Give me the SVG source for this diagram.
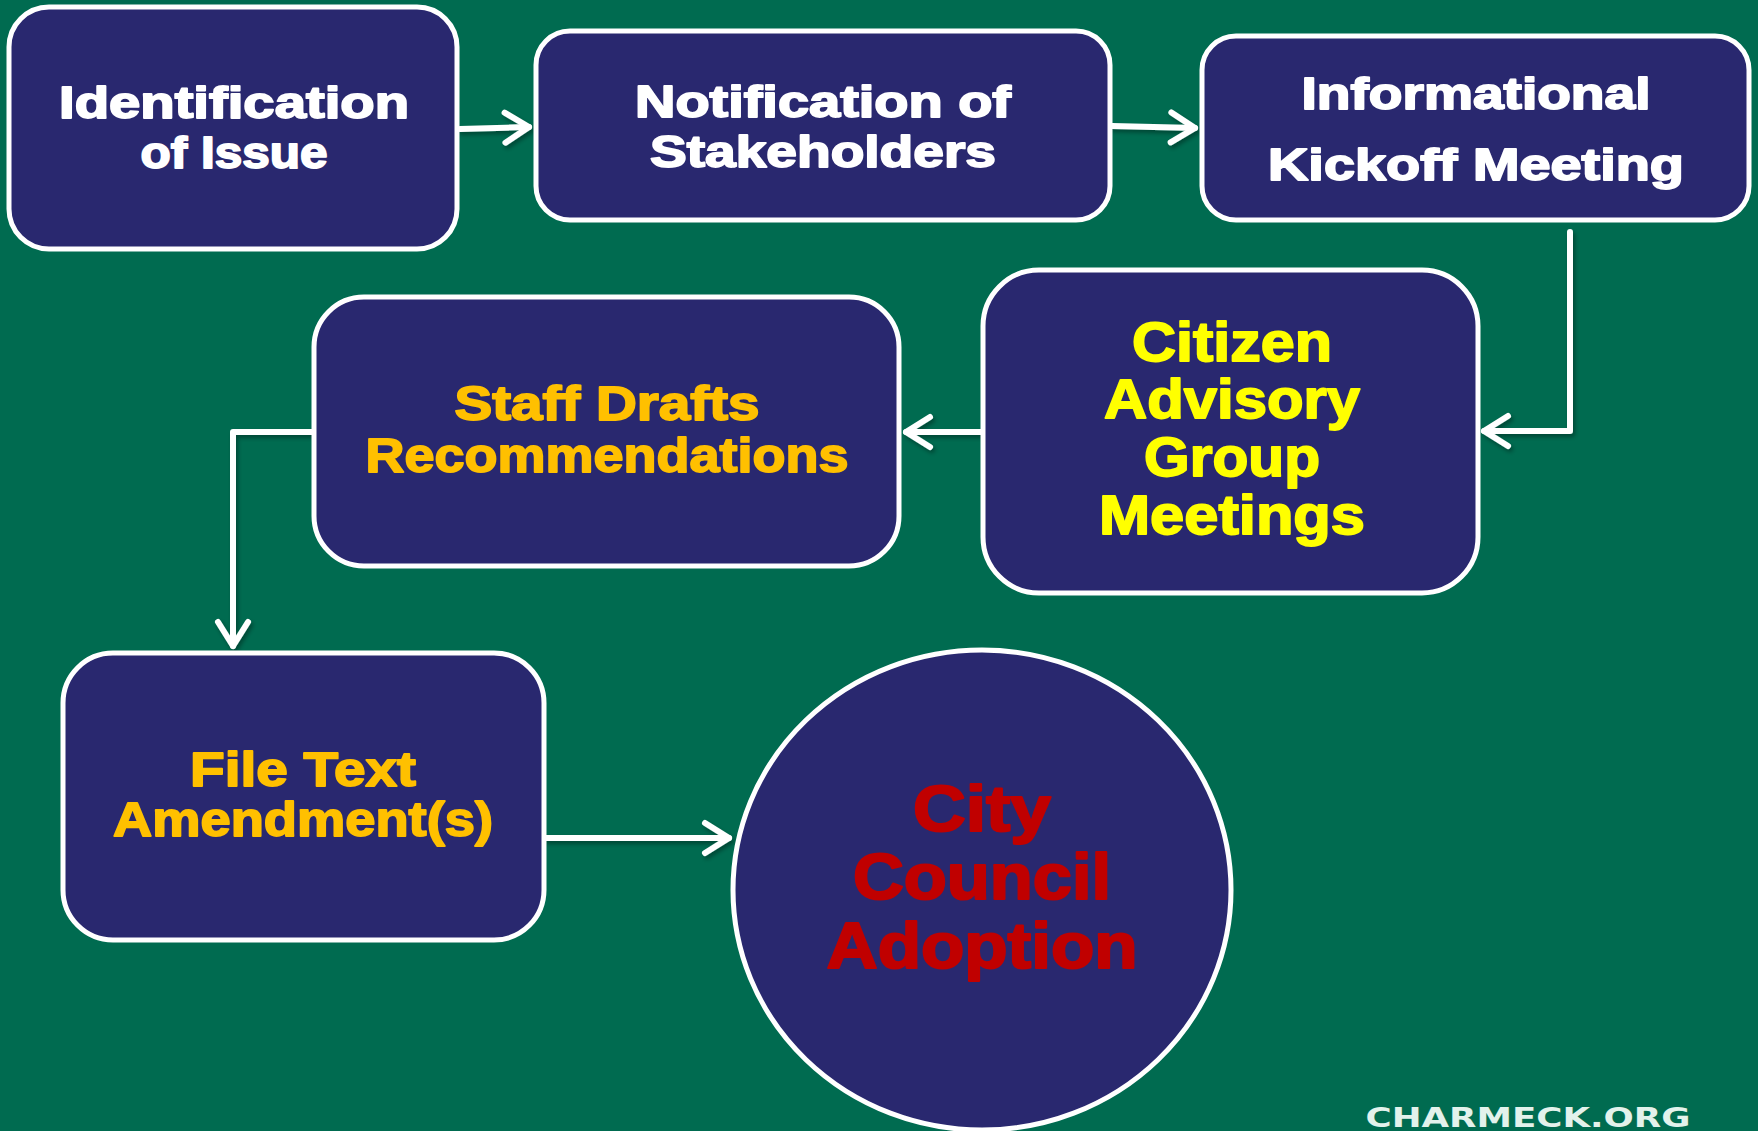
<svg xmlns="http://www.w3.org/2000/svg" width="1758" height="1131" viewBox="0 0 1758 1131">
<defs>
<style>
.node{fill:#29286F;stroke:#FFFFFF;stroke-width:5}
.t{font-family:"Liberation Sans",Arial,sans-serif;font-weight:bold;text-anchor:middle;stroke-width:1.8;stroke-linejoin:round}
.w{fill:#FFFFFF;stroke:#FFFFFF;font-size:44px}
.y{fill:#FFFF00;stroke:#FFFF00;font-size:55px}
.o{fill:#FFC000;stroke:#FFC000;font-size:49px}
.r{fill:#C00000;stroke:#C00000;font-size:65px;stroke-width:2.2}
.c{fill:none;stroke:#FFFFFF;stroke-width:6;stroke-linecap:round;stroke-linejoin:round}
</style>
<marker id="ah" markerUnits="userSpaceOnUse" markerWidth="44" markerHeight="44" viewBox="-32 -22 44 44" refX="0" refY="0" orient="auto">
<path d="M-24,-15 L0,0 L-24,15" fill="none" stroke="#FFFFFF" stroke-width="6" stroke-linecap="round" stroke-linejoin="round"/>
</marker>
<filter id="sh" x="-10%" y="-10%" width="120%" height="120%">
<feDropShadow dx="2" dy="3" stdDeviation="2" flood-color="#000" flood-opacity="0.35"/>
</filter>
</defs>
<rect width="1758" height="1131" fill="#006B50"/>
<g id="connectors" filter="url(#sh)">
<path class="c" d="M460,129 L529,127" marker-end="url(#ah)"/>
<path class="c" d="M1112,126 L1195,128" marker-end="url(#ah)"/>
<path class="c" d="M1570,232 L1570,431 L1484,431" marker-end="url(#ah)"/>
<path class="c" d="M983,432 L906,432" marker-end="url(#ah)"/>
<path class="c" d="M314,432 L233,432 L233,646" marker-end="url(#ah)"/>
<path class="c" d="M546,838 L729,838" marker-end="url(#ah)"/>
</g>
<g id="n1">
<rect class="node" x="9" y="7" width="448" height="242" rx="40"/>
<text class="t w" x="234" y="118" textLength="350" lengthAdjust="spacingAndGlyphs">Identification</text>
<text class="t w" x="234" y="168" textLength="187" lengthAdjust="spacingAndGlyphs">of Issue</text>
</g>
<g id="n2">
<rect class="node" x="536" y="31" width="574" height="189" rx="34"/>
<text class="t w" x="823" y="117" textLength="376" lengthAdjust="spacingAndGlyphs">Notification of</text>
<text class="t w" x="823" y="167" textLength="346" lengthAdjust="spacingAndGlyphs">Stakeholders</text>
</g>
<g id="n3">
<rect class="node" x="1202" y="36" width="547" height="184" rx="34"/>
<text class="t w" x="1476" y="109" textLength="349" lengthAdjust="spacingAndGlyphs">Informational</text>
<text class="t w" x="1476" y="180" textLength="416" lengthAdjust="spacingAndGlyphs">Kickoff Meeting</text>
</g>
<g id="n4">
<rect class="node" x="983" y="270" width="495" height="323" rx="56"/>
<text class="t y" x="1232" y="361" textLength="200" lengthAdjust="spacingAndGlyphs">Citizen</text>
<text class="t y" x="1232" y="418" textLength="256" lengthAdjust="spacingAndGlyphs">Advisory</text>
<text class="t y" x="1232" y="476" textLength="176" lengthAdjust="spacingAndGlyphs">Group</text>
<text class="t y" x="1232" y="534" textLength="266" lengthAdjust="spacingAndGlyphs">Meetings</text>
</g>
<g id="n5">
<rect class="node" x="314" y="297" width="585" height="269" rx="50"/>
<text class="t o" x="607" y="420" textLength="305" lengthAdjust="spacingAndGlyphs">Staff Drafts</text>
<text class="t o" x="607" y="472" textLength="483" lengthAdjust="spacingAndGlyphs">Recommendations</text>
</g>
<g id="n6">
<rect class="node" x="63" y="653" width="481" height="287" rx="50"/>
<text class="t o" x="303" y="786" textLength="226" lengthAdjust="spacingAndGlyphs">File Text</text>
<text class="t o" x="303" y="836" textLength="380" lengthAdjust="spacingAndGlyphs">Amendment(s)</text>
</g>
<g id="n7">
<ellipse class="node" cx="982" cy="890" rx="249" ry="240"/>
<text class="t r" x="982" y="831" textLength="138" lengthAdjust="spacingAndGlyphs">City</text>
<text class="t r" x="982" y="899" textLength="258" lengthAdjust="spacingAndGlyphs">Council</text>
<text class="t r" x="982" y="968" textLength="311" lengthAdjust="spacingAndGlyphs">Adoption</text>
</g>
<text x="1528" y="1127" font-family="'DejaVu Sans',sans-serif" font-weight="bold" font-size="27" fill="#E3F2EC" text-anchor="middle" textLength="325" lengthAdjust="spacingAndGlyphs">CHARMECK.ORG</text>
</svg>
